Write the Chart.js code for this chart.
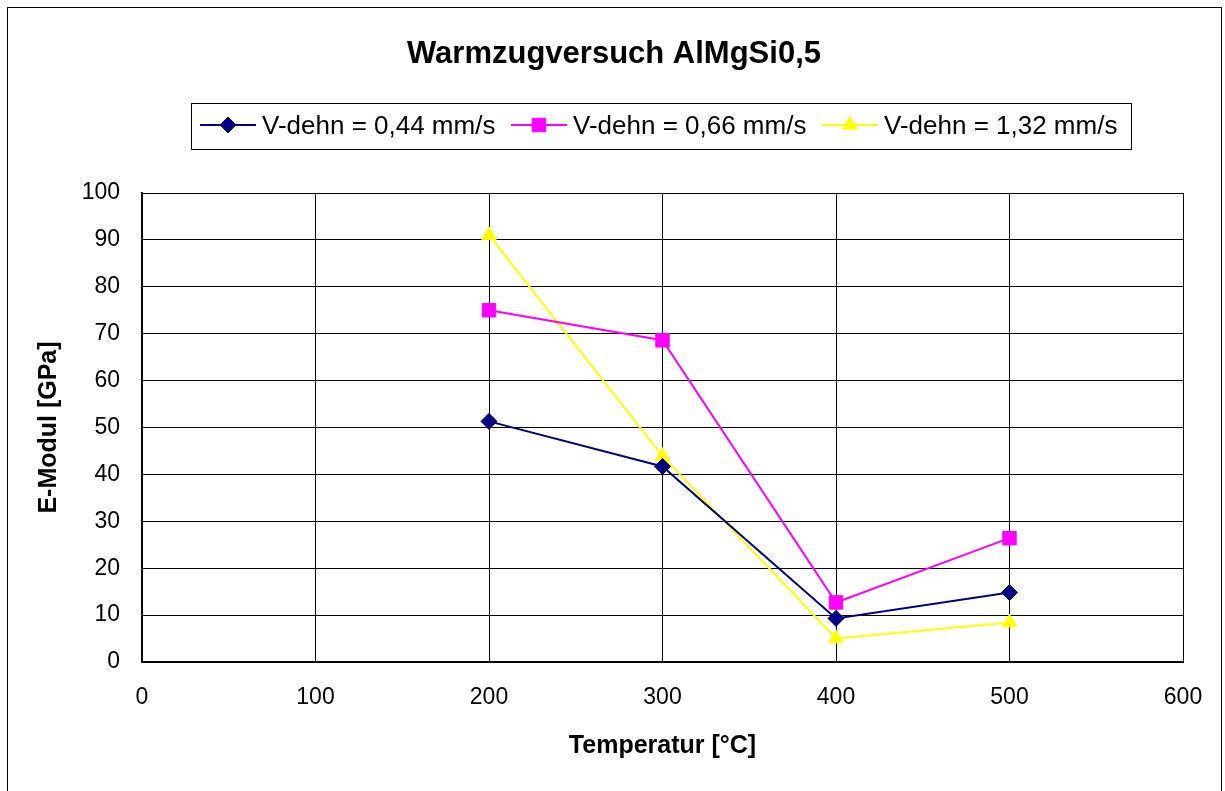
<!DOCTYPE html>
<html>
<head>
<meta charset="utf-8">
<script src="https://cdn.jsdelivr.net/npm/chart.js@4"></script>
<style>
  body { margin: 0; background: #fff; }
  #chart { display: block; }
</style>
</head>
<body>
<canvas id="chart" width="1225" height="791"></canvas>
<script>
// Daten
const temperatures = [200, 300, 400, 500];
const seriesLabels = ["V-dehn = 0,44 mm/s", "V-dehn = 0,66 mm/s", "V-dehn = 1,32 mm/s"];
const modul044 = [51.3, 41.7, 9.3, 14.8];
const modul066 = [75.0, 68.6, 12.7, 26.4];
const modul132 = [91.0, 43.9, 5.0, 8.4];
const xTicks = [0, 100, 200, 300, 400, 500, 600];
const yTicks = [0, 10, 20, 30, 40, 50, 60, 70, 80, 90, 100];

const chartTitle = "Warmzugversuch AlMgSi0,5";
const xTitle = "Temperatur [°C]";
const yTitle = "E-Modul [GPa]";

const FONT = "'Liberation Sans', Arial, sans-serif";

function toPoints(values) {
  return temperatures.map((t, i) => ({ x: t, y: values[i] }));
}

// Rahmen, Titel und Legende (Excel-Stil)
const excelFrame = {
  id: "excelFrame",
  afterDraw(chart) {
    const ctx = chart.ctx;
    ctx.save();
    // äußerer Rahmen
    ctx.strokeStyle = "#000";
    ctx.lineWidth = 1;
    ctx.strokeRect(7.5, 7.5, 1214, 800);

    // Titel
    ctx.fillStyle = "#000";
    ctx.font = "bold 31px " + FONT;
    ctx.textAlign = "center";
    ctx.textBaseline = "alphabetic";
    ctx.fillText(chartTitle, 614, 63);

    // Legende
    ctx.strokeStyle = "#000";
    ctx.lineWidth = 1;
    ctx.strokeRect(191.5, 103.5, 940, 46);
    ctx.font = "26px " + FONT;
    ctx.textAlign = "left";
    chart.data.datasets.forEach((ds, i) => {
      const x0 = 200 + i * 311;
      const y0 = 125;
      ctx.strokeStyle = ds.borderColor;
      ctx.lineWidth = 2;
      ctx.beginPath();
      ctx.moveTo(x0, y0);
      ctx.lineTo(x0 + 56, y0);
      ctx.stroke();
      ctx.fillStyle = ds.pointBackgroundColor;
      ctx.strokeStyle = ds.pointBorderColor;
      ctx.lineWidth = 1;
      Chart.helpers.drawPoint(ctx, {
        pointStyle: ds.pointStyle,
        radius: ds.pointRadius,
        borderWidth: 1,
        rotation: 0
      }, x0 + 28, y0);
      ctx.fillStyle = "#000";
      ctx.fillText(ds.label, x0 + 62, 134);
    });
    ctx.restore();
  }
};

const ctx = document.getElementById("chart").getContext("2d");

function makeDataset(label, values, color, style, radius) {
  return {
    label: label,
    data: toPoints(values),
    borderColor: color,
    backgroundColor: color,
    pointBackgroundColor: color,
    pointBorderColor: color,
    pointStyle: style,
    pointRadius: radius,
    pointBorderWidth: 1,
    borderWidth: 2,
    fill: false,
    tension: 0
  };
}

const chart = new Chart(ctx, {
  type: "line",
  data: {
    datasets: [
      makeDataset(seriesLabels[0], modul044, "#000080", "rectRot", 8),
      makeDataset(seriesLabels[1], modul066, "#FF00FF", "rect", 9.5),
      makeDataset(seriesLabels[2], modul132, "#FFFF00", "triangle", 8.4)
    ]
  },
  plugins: [excelFrame],
  options: {
    responsive: false,
    animation: false,
    layout: { padding: { left: 0, right: 42, top: 193, bottom: 0 } },
    plugins: {
      legend: { display: false },
      title: { display: false },
      tooltip: { enabled: false }
    },
    scales: {
      x: {
        type: "linear",
        min: 0,
        max: 600,
        afterBuildTicks: (scale) => {
          scale.ticks = xTicks.map((v) => ({ value: v }));
        },
        afterFit: (scale) => {
          scale.height = 129;
        },
        grid: { color: "#000", lineWidth: 1, drawTicks: false },
        border: { color: "#000", width: 2 },
        ticks: {
          color: "#000",
          padding: 22,
          maxRotation: 0,
          font: { family: FONT, size: 23 }
        },
        title: {
          display: true,
          text: xTitle,
          color: "#000",
          font: { family: FONT, size: 25, weight: "bold", lineHeight: 1 },
          padding: { top: 0, bottom: 32 }
        }
      },
      y: {
        min: 0,
        max: 100,
        afterBuildTicks: (scale) => {
          scale.ticks = yTicks.map((v) => ({ value: v }));
        },
        afterFit: (scale) => {
          scale.width = 142;
        },
        grid: { color: "#000", lineWidth: 1, drawTicks: false },
        border: { color: "#000", width: 2 },
        ticks: {
          color: "#000",
          padding: 22,
          font: { family: FONT, size: 23 }
        },
        title: {
          display: true,
          text: yTitle,
          color: "#000",
          font: { family: FONT, size: 25, weight: "bold", lineHeight: 1 },
          padding: { top: 37, bottom: 0 }
        }
      }
    }
  }
});
</script>
</body>
</html>
